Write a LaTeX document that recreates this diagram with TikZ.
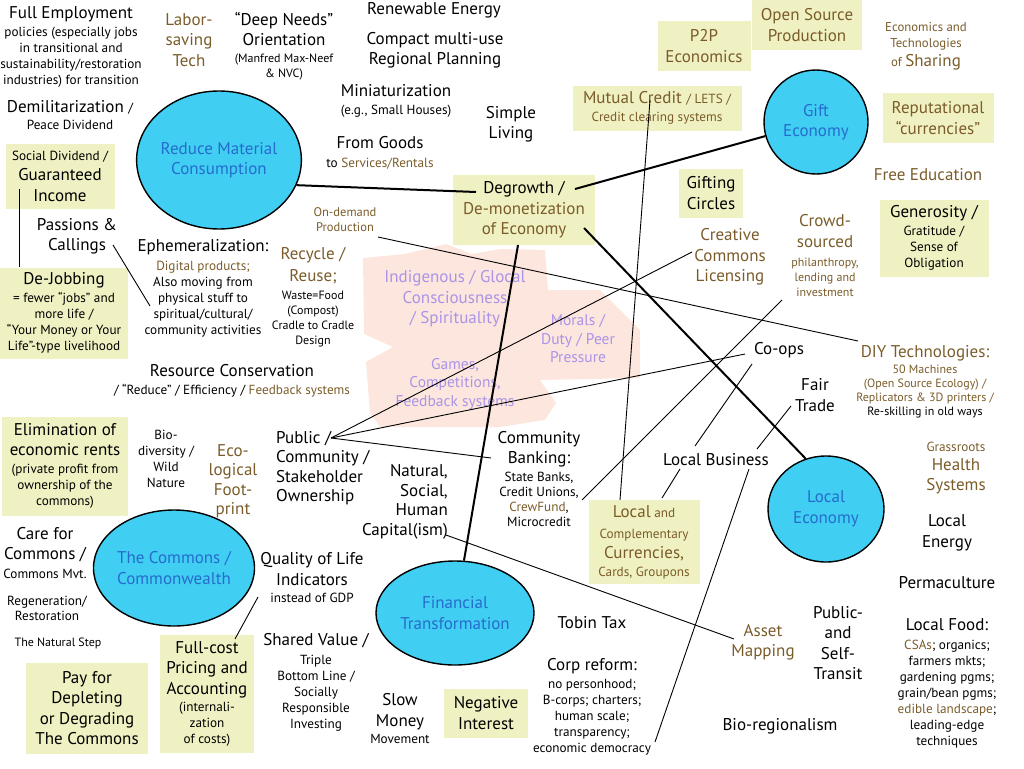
\documentclass[tikz,border=0pt]{standalone}
\usepackage{fontspec}
\setmainfont{PT Sans}
\usetikzlibrary{shapes.geometric}

\definecolor{earth}{RGB}{122,92,42}
\definecolor{boxfill}{RGB}{240,241,194}
\definecolor{hubfill}{RGB}{64,206,242}
\definecolor{hubtext}{RGB}{38,108,205}
\definecolor{haze}{RGB}{170,148,232}
\definecolor{blush}{RGB}{253,230,222}

\newcommand{\fLg}{\fontsize{17}{20.5}\selectfont}
\newcommand{\fMl}{\fontsize{15.5}{18.5}\selectfont}
\newcommand{\fMd}{\fontsize{13.2}{16}\selectfont}
\newcommand{\fSm}{\fontsize{12}{15}\selectfont}
\newcommand{\ea}[1]{\textcolor{earth}{#1}}

\begin{document}
\begin{tikzpicture}[x=1pt,y=-1pt,
  txt/.style={align=center,inner sep=0pt,font=\fLg},
  earthtxt/.style={txt,text=earth},
  card/.style={txt,fill=boxfill},
  hub/.style={ellipse,draw=black,line width=1.4pt,fill=hubfill,text=hubtext,
    align=center,inner sep=0pt,font=\fLg},
  spoke/.style={line width=2pt},
  link/.style={line width=0.9pt}]

\useasboundingbox (0,0) rectangle (1024,768);

% pink cloud behind the middle
\fill[blush] (363,258) -- (405,254) -- (446,244) -- (472,254) -- (500,249)
  -- (545,250) -- (548,290) -- (600,290) -- (640,330) -- (640,378)
  -- (540,380) -- (556,403) -- (545,420) -- (500,427) -- (380,427)
  -- (370,413) -- (366,362) -- (393,347) -- (364,334) -- cycle;

%% top row
\node[txt,font=\fMd] (fullemp) at (71,47) {{\fLg Full Employment}\\[1.5pt]policies (especially jobs\\in transitional and\\sustainability/restoration\\industries) for transition};
\node[earthtxt] (labor) at (189,40) {Labor-\\saving\\Tech};
\node[txt] (deepneeds) at (284,46) {“Deep Needs”\\Orientation\\[-3.5pt]\fSm (Manfred Max-Neef\\[-6pt]\fSm \& NVC)};
\node[txt] (renew) at (434,10) {Renewable Energy};
\node[txt] (compact) at (435,50) {Compact multi-use\\Regional Planning};
\node[txt] (mini) at (396,101) {Miniaturization\\[-3pt]\fMd (e.g., Small Houses)};
\node[txt] (simple) at (511,124) {Simple\\Living};
\node[txt] (goods) at (380,153) {From Goods\\[-1.5pt]\fMd to \ea{Services/Rentals}};
\node[card,text=earth,minimum width=93,minimum height=50] (p2p) at (704,46) {P2P\\Economics};
\node[card,text=earth,minimum width=110,minimum height=50] (opensrc) at (807,25) {Open Source\\Production};
\node[earthtxt,font=\fontsize{12.8}{15}\selectfont] (sharing) at (926,46) {Economics and\\[1pt]Technologies\\[4pt]of {\fLg Sharing}};
\node[card,text=earth,minimum width=169,minimum height=45] (mutual) at (657,108) {Mutual Credit {\fMd / LETS /}\\[-2.5pt]\fMd Credit clearing systems};
\node[card,text=earth,minimum width=111,minimum height=50] (reput) at (938,118) {Reputational\\“currencies”};

%% left column
\node[txt] (demil) at (70,115) {Demilitarization {\fMd /}\\[-3.5pt]\fMd Peace Dividend};
\node[card,minimum width=109,minimum height=65] (socdiv) at (60,176) {\fMd Social Dividend /\\Guaranteed\\Income};
\node[txt] (passions) at (77,236) {Passions \&\\Callings};
\node[card,font=\fMd,minimum width=128,minimum height=91] (dejob) at (64,313) {{\fLg De-Jobbing}\\[2pt]= fewer “jobs” and\\more life /\\“Your Money or Your\\Life”-type livelihood};
\node[card,font=\fMd,minimum width=126,minimum height=99] (elim) at (65,466) {{\fLg Elimination of}\\[4.5pt]{\fLg economic rents}\\[2pt](private profit from\\ownership of the\\commons)};
\node[txt] (carefor) at (45,553) {Care for\\Commons /\\[-1.5pt]\fMd Commons Mvt.};
\node[txt,font=\fMd] (regen) at (47,608) {Regeneration/\\[-1pt]Restoration};
\node[txt,font=\fSm] (natstep) at (58,643) {The Natural Step};
\node[card,minimum width=122,minimum height=91] (payfor) at (87,708) {Pay for\\Depleting\\or Degrading\\The Commons};

%% hubs
\node[hub,minimum width=142,minimum height=138] (reduce) at (219,160) {Reduce Material\\Consumption};
\node[hub,minimum width=104,minimum height=104] (gift) at (816,122) {Gift\\Economy};
\node[hub,minimum width=116,minimum height=106] (localeco) at (826,509) {Local\\Economy};
\node[hub,minimum width=158,minimum height=104] (fintrans) at (455,613) {Financial\\Transformation};
\node[hub,minimum width=148,minimum height=116] (commons) at (174,568) {The Commons /\\Commonwealth};

%% middle
\node[txt,font=\fMd] (ephem) at (203,288) {{\fLg Ephemeralization:}\\[3pt]\ea{Digital products;}\\Also moving from\\physical stuff to\\spiritual/cultural/\\community activities};
\node[earthtxt,font=\fontsize{12.5}{15}\selectfont] (ondemand) at (345,220) {On-demand\\Production};
\node[txt,font=\fSm] (recycle) at (313,297) {\ea{\fLg Recycle /}\\[5pt]\ea{\fLg Reuse;}\\[3pt]Waste=Food\\(Compost)\\Cradle to Cradle\\Design};
\node[txt,font=\fMd] (resource) at (232,381) {{\fLg Resource Conservation}\\[2pt]/ “Reduce” / Efficiency / \ea{Feedback systems}};
\node[card,minimum width=142,minimum height=70] (degrowth) at (524,210) {Degrowth /\\\ea{De-monetization}\\\ea{of Economy}};
\node[txt,text=haze] (indig) at (455,299) {Indigenous / Glocal\\Consciousness\\/ Spirituality};
\node[txt,text=haze,font=\fMl] (morals) at (578,339) {Morals /\\Duty / Peer\\Pressure};
\node[txt,text=haze,font=\fMl] (games) at (455,384) {Games,\\Competitions,\\Feedback systems};
\node[txt,font=\fMd] (biodiv) at (166,459) {Bio-\\diversity /\\Wild\\Nature};
\node[earthtxt] (ecofoot) at (233,481) {Eco-\\[-1pt]logical\\[-1pt]Foot-\\[-1pt]print};
\node[txt,align=left,anchor=west] (public) at (276,468) {Public /\\[-1pt]Community /\\[-1pt]Stakeholder\\[-1pt]Ownership};
\node[txt,align=right,anchor=east] (capital) at (448,502) {Natural,\\[-1pt]Social,\\[-1pt]Human\\[-1pt]Capital(ism)};
\node[txt,font=\fMd] (combank) at (539,479) {{\fLg Community}\\[4.5pt]{\fLg Banking:}\\[2pt]State Banks,\\[-1pt]Credit Unions,\\[-1pt]\ea{CrewFund},\\[-1pt]Microcredit};
\node[txt] (quality) at (312,578) {Quality of Life\\Indicators\\[-3pt]\fMd instead of GDP};
\node[card,minimum width=94,minimum height=118] (fullcost) at (207,694) {Full-cost\\Pricing and\\Accounting\\[-3pt]\fMd (internali-\\[-4.5pt]\fMd zation\\[-4.5pt]\fMd of costs)};
\node[txt,font=\fMd] (shared) at (316,682) {{\fLg Shared Value /}\\[3pt]Triple\\Bottom Line /\\Socially\\Responsible\\Investing};
\node[txt] (slowmoney) at (400,719) {Slow\\Money\\[-3pt]\fMd Movement};
\node[card,minimum width=84,minimum height=49] (negint) at (486,713) {Negative\\Interest};

%% right side
\node[card,minimum width=64,minimum height=49] (gifting) at (711,193) {Gifting\\Circles};
\node[earthtxt] (freeedu) at (928,175) {Free Education};
\node[card,font=\fMd,minimum width=109,minimum height=77] (generosity) at (934,238) {{\fLg Generosity /}\\[2pt]Gratitude /\\Sense of\\Obligation};
\node[earthtxt] (creative) at (730,257) {Creative\\Commons\\Licensing};
\node[earthtxt,font=\fSm] (crowd) at (825,256) {{\fLg Crowd-}\\[6pt]{\fLg sourced}\\[4pt]philanthropy,\\lending and\\investment};
\node[txt] (coops) at (779,350) {Co-ops};
\node[txt] (fairtrade) at (815,395) {Fair\\Trade};
\node[txt] (localbiz) at (716,460) {Local Business};
\node[earthtxt,font=\fSm] (diy) at (925,382) {{\fLg DIY Technologies:}\\[1pt]50 Machines\\[-1pt](Open Source Ecology) /\\[-1pt]Replicators \& 3D printers /\\[-1pt]\textcolor{black}{Re-skilling in old ways}};
\node[earthtxt] (grassroots) at (956,468) {\fMd Grassroots\\[-1.5pt]Health\\Systems};
\node[card,text=earth,font=\fMd,minimum width=111,minimum height=84] (localcur) at (644,542) {{\fLg Local} and\\[5pt]Complementary\\[4pt]{\fLg Currencies,}\\[2pt]Cards, Groupons};
\node[txt] (localenergy) at (947,533) {Local\\Energy};
\node[txt] (perma) at (947,583) {Permaculture};
\node[txt,font=\fMd] (localfood) at (947,683) {{\fLg Local Food:}\\[3pt]\ea{CSAs}; organics;\\farmers mkts;\\gardening pgms;\\grain/bean pgms;\\\ea{edible landscape};\\leading-edge\\techniques};
\node[txt] (transit) at (838,643) {Public-\\and\\Self-\\Transit};
\node[earthtxt] (asset) at (763,642) {Asset\\Mapping};
\node[txt] (tobin) at (592,623) {Tobin Tax};
\node[txt,font=\fMd] (corp) at (592,707) {{\fLg Corp reform:}\\[2pt]no personhood;\\B-corps; charters;\\human scale;\\transparency;\\economic democracy};
\node[txt] (bioreg) at (780,726) {Bio-regionalism};

%% connector ends
\coordinate (sd-foot) at (19,189);
\coordinate (pc-end) at (113,245);
\coordinate (ep-end) at (150,306);
\coordinate (od-end) at (378,237);
\coordinate (diy-end) at (858,341);
\coordinate (dg-w) at (476,192);
\coordinate (dg-e) at (575,189);
\coordinate (dg-s) at (518,245);
\coordinate (dg-se) at (584,228);
\coordinate (mc-end) at (650,100);
\coordinate (lc-top) at (620,500);
\coordinate (cc-end) at (692,252);
\coordinate (pub-end) at (331,438);
\coordinate (cs-end) at (782,300);
\coordinate (cb-mc) at (582,500);
\coordinate (cb-w) at (491,458);
\coordinate (co-w) at (745,354);
\coordinate (co-s) at (752,364);
\coordinate (lb-ne) at (695,446);
\coordinate (ft-end) at (791,406);
\coordinate (lb-e) at (757,449);
\coordinate (lb-sw) at (680,469);
\coordinate (lc-ne) at (662,498);
\coordinate (lb-se) at (749,469);
\coordinate (cr-end) at (655,742);
\coordinate (cap-end) at (446,535);
\coordinate (am-end) at (734,639);
\coordinate (ql-end) at (258,597);
\coordinate (fc-end) at (235,639);

%% heavy spokes
\draw[spoke] (reduce.-18) -- (dg-w);
\draw[spoke] (dg-e) -- (gift);
\draw[spoke] (dg-s) -- (fintrans);
\draw[spoke] (dg-se) -- (localeco.112);

%% thin links
\draw[link] (sd-foot) -- (sd-foot |- dejob.north);
\draw[link] (pc-end) -- (ep-end);
\draw[link] (od-end) -- (diy-end);
\draw[link] (mc-end) -- (lc-top);
\draw[link] (cc-end) -- (pub-end);
\draw[link] (co-w) -- (pub-end);
\draw[link] (pub-end) -- (cb-w);
\draw[link] (cs-end) -- (cb-mc);
\draw[link] (co-s) -- (lb-ne);
\draw[link] (ft-end) -- (lb-e);
\draw[link] (lb-sw) -- (lc-ne);
\draw[link] (lb-se) -- (cr-end);
\draw[link] (cap-end) -- (am-end);
\draw[link] (ql-end) -- (fc-end);

\end{tikzpicture}
\end{document}
